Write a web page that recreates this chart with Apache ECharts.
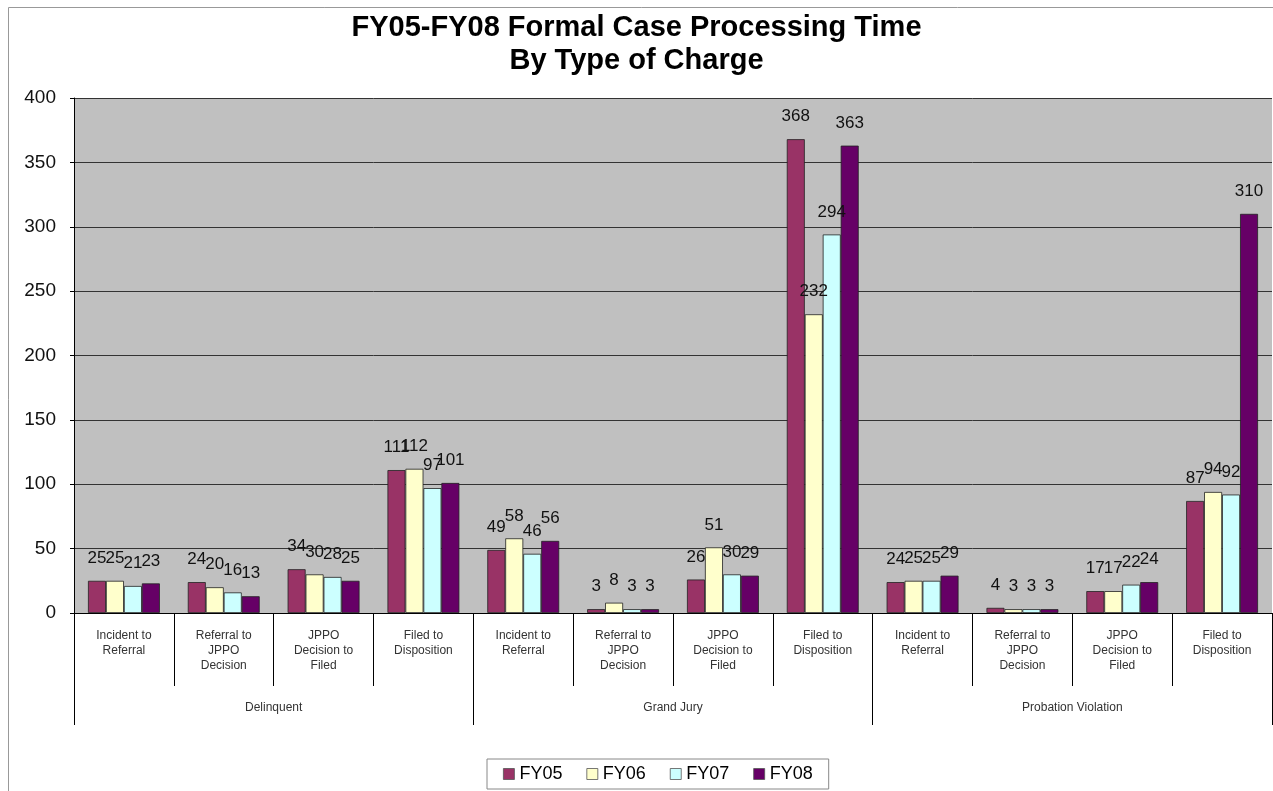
<!DOCTYPE html>
<html lang="en">
<head>
	<meta charset="UTF-8">
	<title>Formal Case Processing Time</title>
	<style>
		body{margin:0;background:#fff;}
	</style>
</head>
<body>
	<div id="bar_one" style="width:1273px;height:791px;"></div>
<script src="https://cdn.jsdelivr.net/npm/echarts@6/dist/echarts.min.js"></script>
<script>
	var steps = ['Incident to\nReferral', 'Referral to\nJPPO\nDecision', 'JPPO\nDecision to\nFiled', 'Filed to\nDisposition'];
	var groups = ['Delinquent', 'Grand Jury', 'Probation Violation'];
	var years = ['FY05', 'FY06', 'FY07', 'FY08'];
	var fy05 = [25, 24, 34, 111, 49, 3, 26, 368, 24, 4, 17, 87];
	var fy06 = [25, 20, 30, 112, 58, 8, 51, 232, 25, 3, 17, 94];
	var fy07 = [21, 16, 28, 97, 46, 3, 30, 294, 25, 3, 22, 92];
	var fy08 = [23, 13, 25, 101, 56, 3, 29, 363, 29, 3, 24, 310];
	var colors = ['#993366', '#ffffcc', '#ccffff', '#660066'];

	var categories = [];
	for (var g = 0; g < groups.length; g++) {
		for (var s = 0; s < steps.length; s++) {
			categories.push(steps[s]);
		}
	}

	var myChart1 = echarts.init(document.getElementById('bar_one'));
	var allData = [fy05, fy06, fy07, fy08];
	var series = [];
	for (var i = 0; i < years.length; i++) {
		series.push({
			name: years[i],
			type: 'bar',
			xAxisIndex: 0,
			data: allData[i],
			barGap: '0%',
			barCategoryGap: '28%',
			itemStyle: {color: colors[i], borderColor: '#222', borderWidth: 0.8},
			label: {
				show: true,
				position: 'top',
				distance: 14,
				color: '#111',
				fontFamily: 'Liberation Sans',
				fontSize: 17
			}
		});
	}

	var option1 = {
		color: colors,
		animation: false,
		title: {
			text: 'FY05-FY08 Formal Case Processing Time\nBy Type of Charge',
			left: 'center',
			top: 6,
			textStyle: {
				fontFamily: 'Liberation Sans',
				fontWeight: 'bold',
				fontSize: 29,
				lineHeight: 33,
				color: '#000'
			}
		},
		legend: {
			bottom: 2,
			left: 487,
			itemWidth: 11,
			itemHeight: 11,
			itemGap: 24,
			padding: [6, 16],
			borderColor: '#888',
			borderWidth: 1,
			icon: 'rect',
			itemStyle: {borderColor: '#555', borderWidth: 0.8},
			textStyle: {fontFamily: 'Liberation Sans', fontSize: 18, color: '#000'},
			data: years
		},
		grid: {
			left: 74,
			right: 1,
			top: 98,
			bottom: 178
		},
		xAxis: [
			{
				type: 'category',
				data: categories,
				axisLine: {lineStyle: {color: '#000', width: 1}},
				axisTick: {show: true, interval: 0, length: 73, lineStyle: {color: '#000'}},
				axisLabel: {
					interval: 0,
					margin: 15,
					color: '#333',
					fontFamily: 'Liberation Sans',
					fontSize: 12,
					lineHeight: 15
				}
			},
			{
				type: 'category',
				position: 'bottom',
				data: groups,
				axisLine: {show: false},
				axisTick: {show: true, interval: 0, length: 112, lineStyle: {color: '#000'}},
				axisLabel: {
					interval: 0,
					margin: 89,
					color: '#333',
					fontFamily: 'Liberation Sans',
					fontSize: 12
				}
			}
		],
		yAxis: {
			type: 'value',
			min: 0,
			max: 400,
			interval: 50,
			axisLine: {show: true, lineStyle: {color: '#000'}},
			axisTick: {show: true, length: 4, lineStyle: {color: '#000'}},
			splitLine: {lineStyle: {color: '#333', width: 1}},
			splitArea: {show: false},
			axisLabel: {color: '#111', fontFamily: 'Liberation Sans', fontSize: 19, margin: 18}
		},
		graphic: [
			{
				type: 'rect',
				left: 74,
				top: 98,
				shape: {width: 1198, height: 515},
				style: {fill: '#c0c0c0'},
				z: -10,
				silent: true
			},
			{
				type: 'rect',
				left: 6,
				top: 5,
				shape: {width: 1280, height: 800},
				style: {fill: 'none', stroke: '#999', lineWidth: 1},
				z: -10,
				silent: true
			}
		],
		series: series
	};
	myChart1.setOption(option1);
</script>
</body>
</html>
